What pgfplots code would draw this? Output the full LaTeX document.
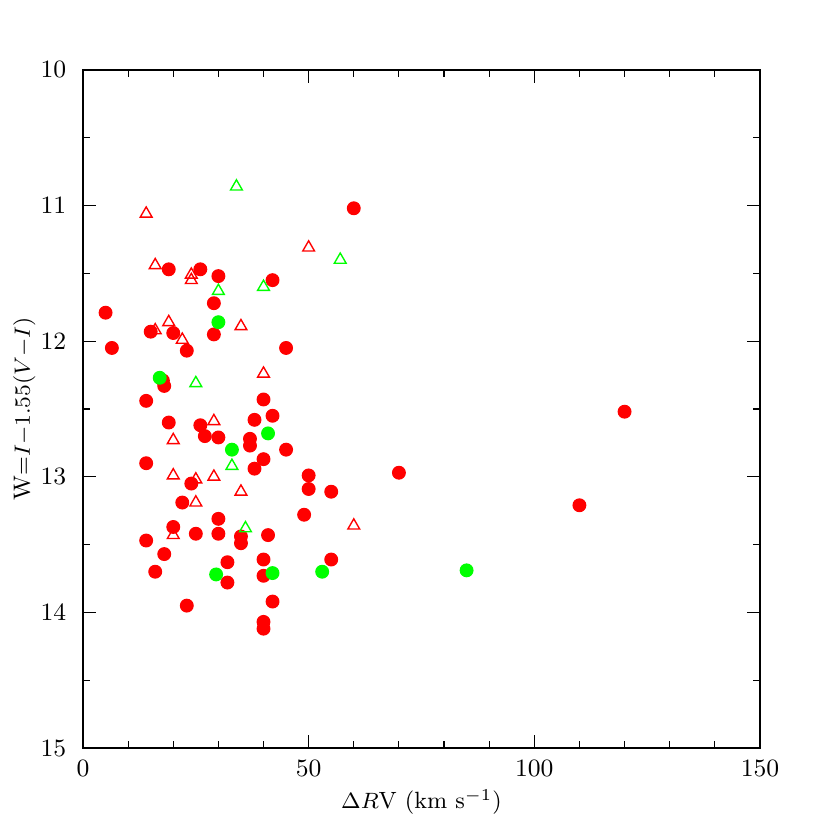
\documentclass[border=0pt]{standalone}
\usepackage{pgfplots}
\pgfplotsset{compat=1.18}
\definecolor{pred}{RGB}{255,0,0}
\definecolor{pgreen}{RGB}{0,255,0}
\begin{document}
\begin{tikzpicture}
\useasboundingbox (-29.88bp,-29.52bp) rectangle (268.92bp,269.28bp);
\begin{axis}[
  at={(0,0)}, anchor=south west,
  scale only axis, width=243.7bp, height=244.1bp,
  xmin=0, xmax=150, ymin=10, ymax=15, y dir=reverse,
  xtick={0,50,100,150}, minor xtick={10,20,30,40,60,70,80,90,110,120,130,140},
  ytick={10,11,12,13,14,15}, minor ytick={10.5,11.5,12.5,13.5,14.5},
  tick align=inside, tick pos=both,
  major tick length=4.7bp, minor tick length=2.5bp,
  tick style={black, line width=0.4pt},
  axis line style={black, line width=0.5pt},
  ticklabel style={font=\fontsize{8.8}{10}\selectfont},
  yticklabel style={xshift=-2.5bp},
  xticklabel style={yshift=-1bp},
  xlabel={$\Delta R$V (km s$^{-1}$)},
  ylabel={W=$I{-}1.55(V{-}I)$},
  label style={font=\fontsize{8.5}{10}\selectfont},
  xlabel style={yshift=2pt},
  ylabel style={yshift=-5pt},
  clip=false,
]
% red filled circles
\addplot[only marks, mark=*, mark size=2.3bp, color=pred, mark options={fill=pred, draw=pred}] coordinates {
(60,11.02) (5,11.79) (6.4,12.05) (19,11.47) (26,11.47) (30,11.52) (42,11.55) (29,11.72)
(15,11.93) (20,11.94) (29,11.95) (23,12.07) (45,12.05) (17.7,12.29) (18,12.33) (14,12.44)
(40,12.43) (19,12.60) (26,12.62) (27,12.70) (30,12.71) (38,12.58) (42,12.55) (37,12.72)
(37,12.77) (45,12.80) (40,12.87) (38,12.94) (14,12.90) (50,12.99) (50,13.09) (55,13.11)
(70,12.97) (24,13.05) (22,13.19) (49,13.28) (30,13.31) (20,13.37) (14,13.47) (25,13.42)
(30,13.42) (35,13.44) (35,13.49) (41,13.43) (18,13.57) (16,13.70) (32,13.63) (32,13.78)
(40,13.61) (40,13.73) (55,13.61) (42,13.92) (23,13.95) (40,14.07) (40,14.12)
(110,13.21) (120,12.52)
};
% green filled circles
\addplot[only marks, mark=*, mark size=2.3bp, color=pgreen, mark options={fill=pgreen, draw=pgreen}] coordinates {
(30,11.86) (17,12.27) (41,12.68) (33,12.80) (29.5,13.72) (42,13.71) (53,13.70) (85,13.69)
};
% red open triangles
\addplot[only marks, mark=triangle, mark size=2.45bp, color=pred, mark options={line width=0.5pt}] coordinates {
(14,11.06) (50,11.31) (16,11.44) (24,11.51) (24,11.55) (19,11.86) (16,11.92) (35,11.89)
(22,11.99) (40,12.24) (29,12.59) (20,12.73) (20,12.99) (25,13.02) (29,13.00) (35,13.11)
(25,13.19) (20,13.43) (60,13.36)
};
% green open triangles
\addplot[only marks, mark=triangle, mark size=2.45bp, color=pgreen, mark options={line width=0.5pt}] coordinates {
(34,10.86) (57,11.40) (30,11.63) (40,11.60) (25,12.31) (33,12.92) (36,13.38)
};
\end{axis}
\end{tikzpicture}
\end{document}
